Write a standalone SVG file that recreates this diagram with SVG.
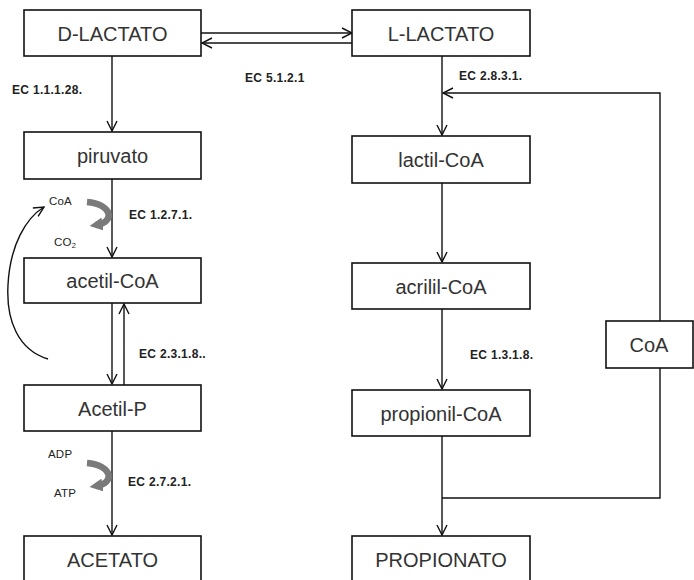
<svg xmlns="http://www.w3.org/2000/svg" width="694" height="580" viewBox="0 0 694 580">
  <style>
    .box { fill: #ffffff; stroke: #111; stroke-width: 1.6; }
    .lbl { font-family: "Liberation Sans", Arial, sans-serif; font-size: 20px; fill: #333; text-anchor: middle; }
    .ec { font-family: "Liberation Sans", Arial, sans-serif; font-size: 12px; font-weight: bold; fill: #222; letter-spacing: 0.3px; }
    .sm { font-family: "Liberation Sans", Arial, sans-serif; font-size: 11.5px; fill: #222; letter-spacing: 0.2px; }
    .ln { fill: none; stroke: #111; stroke-width: 1.4; }
    .gr { fill: none; stroke: #7a7a7a; stroke-width: 6.5; }
  </style>
  <defs>
    <marker id="open" viewBox="0 0 12 12" refX="11" refY="6" markerWidth="12" markerHeight="12" markerUnits="userSpaceOnUse" orient="auto">
      <path d="M1,1 L11,6 L1,11" fill="none" stroke="#111" stroke-width="1.4"/>
    </marker>
    <marker id="solid" viewBox="0 0 10 10" refX="5" refY="5" markerWidth="13" markerHeight="13" markerUnits="userSpaceOnUse" orient="auto">
      <path d="M0,0 L10,5 L0,10 Z" fill="#7a7a7a"/>
    </marker>
  </defs>

  <!-- connectors -->
  <g id="connectors">
    <!-- D-LACTATO <-> L-LACTATO -->
    <line class="ln" x1="201" y1="33" x2="352" y2="33" marker-end="url(#open)"/>
    <line class="ln" x1="352" y1="43" x2="202" y2="43" marker-end="url(#open)"/>
    <!-- left pathway -->
    <line class="ln" x1="112" y1="56" x2="112" y2="131" marker-end="url(#open)"/>
    <line class="ln" x1="112" y1="179" x2="112" y2="257" marker-end="url(#open)"/>
    <line class="ln" x1="112" y1="303" x2="112" y2="384" marker-end="url(#open)"/>
    <line class="ln" x1="124" y1="385" x2="124" y2="304" marker-end="url(#open)"/>
    <line class="ln" x1="112" y1="431" x2="112" y2="535" marker-end="url(#open)"/>
    <!-- CoA recycling arc -->
    <path class="ln" d="M48,359 C18,350 6,320 8,285 C10,245 26,218 44,207" stroke-width="1.2" marker-end="url(#open)"/>
    <!-- cofactor arrows -->
    <path class="gr" d="M87,202 C112,204 116,222 96,225" marker-end="url(#solid)"/>
    <path class="gr" d="M87,463 C112,465 116,483 96,486" marker-end="url(#solid)"/>
    <!-- right pathway -->
    <line class="ln" x1="442" y1="56" x2="442" y2="135" marker-end="url(#open)"/>
    <line class="ln" x1="442" y1="183" x2="442" y2="262" marker-end="url(#open)"/>
    <line class="ln" x1="442" y1="309" x2="442" y2="389" marker-end="url(#open)"/>
    <line class="ln" x1="442" y1="436" x2="442" y2="535" marker-end="url(#open)"/>
    <!-- CoA loop -->
    <polyline class="ln" points="660,321 660,93 443,93" marker-end="url(#open)"/>
    <polyline class="ln" points="660,368 660,498 442,498"/>
  </g>

  <!-- nodes -->
  <g id="d-lactato"><rect class="box" x="24" y="10" width="177" height="46"/><text class="lbl" x="112.5" y="41">D-LACTATO</text></g>
  <g id="l-lactato"><rect class="box" x="352" y="10" width="178" height="46"/><text class="lbl" x="441" y="41">L-LACTATO</text></g>
  <g id="piruvato"><rect class="box" x="24" y="132" width="177" height="47"/><text class="lbl" x="112.5" y="163">piruvato</text></g>
  <g id="acetil-coa"><rect class="box" x="24" y="258" width="177" height="45"/><text class="lbl" x="112.5" y="288">acetil-CoA</text></g>
  <g id="acetil-p"><rect class="box" x="24" y="385" width="177" height="46"/><text class="lbl" x="112.5" y="416">Acetil-P</text></g>
  <g id="acetato"><rect class="box" x="24" y="536" width="177" height="46"/><text class="lbl" x="112.5" y="567">ACETATO</text></g>
  <g id="lactil-coa"><rect class="box" x="352" y="136" width="178" height="47"/><text class="lbl" x="441" y="167">lactil-CoA</text></g>
  <g id="acrilil-coa"><rect class="box" x="352" y="263" width="178" height="46"/><text class="lbl" x="441" y="294">acrilil-CoA</text></g>
  <g id="propionil-coa"><rect class="box" x="352" y="390" width="178" height="46"/><text class="lbl" x="441" y="421">propionil-CoA</text></g>
  <g id="propionato"><rect class="box" x="352" y="536" width="178" height="46"/><text class="lbl" x="441" y="567">PROPIONATO</text></g>
  <g id="coa"><rect class="box" x="606" y="321" width="87" height="47"/><text class="lbl" x="649" y="352">CoA</text></g>

  <!-- enzyme labels -->
  <g id="labels">
    <text class="ec" x="12" y="94">EC 1.1.1.28.</text>
    <text class="ec" x="245" y="82">EC 5.1.2.1</text>
    <text class="ec" x="459" y="80">EC 2.8.3.1.</text>
    <text class="ec" x="129" y="219">EC 1.2.7.1.</text>
    <text class="ec" x="139" y="358">EC 2.3.1.8..</text>
    <text class="ec" x="128" y="486">EC 2.7.2.1.</text>
    <text class="ec" x="470" y="359">EC 1.3.1.8.</text>
    <text class="sm" x="49" y="205">CoA</text>
    <text class="sm" x="54" y="246">CO<tspan font-size="7.5" dy="2">2</tspan></text>
    <text class="sm" x="48" y="458">ADP</text>
    <text class="sm" x="54" y="497">ATP</text>
  </g>
</svg>
